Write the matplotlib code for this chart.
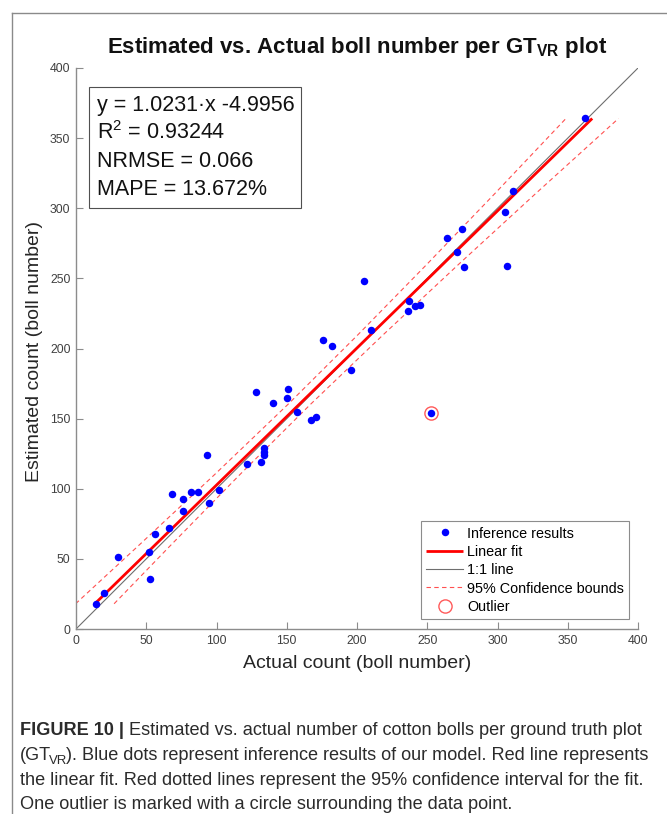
import numpy as np
import matplotlib
matplotlib.use('Agg')
import matplotlib.pyplot as plt
from matplotlib import font_manager
from matplotlib.lines import Line2D
from matplotlib.patches import Rectangle

plt.rcParams['font.family'] = ['Liberation Sans', 'DejaVu Sans']
plt.rcParams['mathtext.fontset'] = 'custom'
plt.rcParams['mathtext.rm'] = 'Liberation Sans'
plt.rcParams['mathtext.it'] = 'Liberation Sans:italic'
plt.rcParams['mathtext.bf'] = 'Liberation Sans:bold'

# ---- data ----
actual = [14, 20, 30, 52, 53, 56, 66, 68, 76, 76, 82, 87, 93, 95, 102,
          122, 128, 132, 134, 134, 134, 140, 150, 151, 157, 167, 171, 176,
          182, 196, 210, 205, 236, 237, 241, 245, 264, 271, 275, 276, 305,
          307, 311, 362, 253]
estimated = [18, 26, 51, 55, 36, 68, 72, 96, 84, 93, 98, 98, 124, 90, 99,
             118, 169, 119, 129, 126, 124, 161, 165, 171, 155, 149, 151, 206,
             202, 185, 213, 248, 227, 234, 230, 231, 279, 269, 285, 258, 297,
             259, 312, 364, 154]
outlier_actual = [253]
outlier_estimated = [154]

fit_slope = 1.0231
fit_intercept = -4.9956

# half width of the 95% bounds (horizontal, in boll number) at some y values
ci_y = [18, 60, 110, 160, 210, 260, 310, 364]
ci_half = [13.7, 11.3, 9.0, 8.0, 9.0, 11.3, 14.5, 18.7]

stats_lines = ['y = 1.0231\u00b7x -4.9956', r'R$^2$ = 0.93244',
               'NRMSE = 0.066', 'MAPE = 13.672%']

ticks = [0, 50, 100, 150, 200, 250, 300, 350, 400]

W, H = 667, 814
fig = plt.figure(figsize=(W / 100, H / 100), dpi=100)

# frame around figure + caption
fx, fy = 12 / W, 1 - 13 / H
fig.add_artist(Line2D([fx, 1.02], [fy, fy], transform=fig.transFigure, color='#8a8a8a', lw=1.0))
fig.add_artist(Line2D([fx, fx], [-0.02, fy], transform=fig.transFigure, color='#8a8a8a', lw=1.0))

ax = fig.add_axes([76 / W, (H - 629) / H, 562 / W, 561 / H])
ax.set_xlim(0, 400)
ax.set_ylim(0, 400)

# data
ax.plot(actual, estimated, 'o', ls='none', color='#0000ff', ms=5.4, mew=0,
        label='Inference results', zorder=4)

# linear fit (drawn over the range of estimated counts)
yy = np.array([min(estimated), max(estimated)], dtype=float)
ax.plot(fit_slope * yy + fit_intercept, yy, color='#ff0000', lw=2.0,
        label='Linear fit', zorder=3, solid_capstyle='butt')

# 1:1 line
ax.plot([0, 400], [0, 400], color='#6e6e6e', lw=0.8, label='1:1 line', zorder=2)

# confidence bounds
cy = np.array(ci_y, dtype=float)
ch = np.array(ci_half, dtype=float)
cx = fit_slope * cy + fit_intercept
ax.plot(cx - ch, cy, color='#ff5050', lw=0.8, ls=(0, (4, 3)),
        label='95% Confidence bounds', zorder=2)
ax.plot(cx + ch, cy, color='#ff5050', lw=0.8, ls=(0, (4, 3)), zorder=2)

# outlier
ax.plot(outlier_actual, outlier_estimated, 'o', ls='none', mfc='none',
        mec='#ff5a5a', ms=9.5, mew=1.0, label='Outlier', zorder=5)

for s in ['top', 'right']:
    ax.spines[s].set_visible(False)
for s in ['left', 'bottom']:
    ax.spines[s].set_color('#8c8c8c')
    ax.spines[s].set_linewidth(1.0)
ax.set_xticks(ticks)
ax.set_yticks(ticks)
ax.tick_params(direction='in', length=5, width=0.8, color='#8c8c8c',
               labelcolor='#404040', labelsize=8.8, pad=4)

# stats box
ax.add_patch(Rectangle((0.023, 0.75), 0.377, 0.216, transform=ax.transAxes,
                       fill=False, ec='#505050', lw=0.8, zorder=6))
for i, s in enumerate(stats_lines):
    ax.text(0.037, 0.9234 - i * 0.0499, s, transform=ax.transAxes,
            fontsize=15.5, va='baseline', ha='left', color='#111111', zorder=7)

leg = ax.legend(loc='lower right', bbox_to_anchor=(0.984, 0.018),
                borderaxespad=0, fontsize=10.4, frameon=True, fancybox=False,
                framealpha=1, edgecolor='#8c8c8c', handlelength=2.6,
                handletextpad=0.25, labelspacing=0.3, borderpad=0.35)
leg.get_frame().set_linewidth(0.8)

# title and axis labels
fig.text(357 / W, 1 - 53 / H,
         r'Estimated vs. Actual boll number per GT$_{\mathbf{VR}}$ plot',
         ha='center', va='baseline', fontsize=16, fontweight='bold', color='#111111')
fig.text(357 / W, 1 - 663 / H, 'Actual count (boll number)', ha='center',
         va='center', fontsize=14, color='#262626')
fig.text(35 / W, 1 - 352 / H, 'Estimated count (boll number)', ha='center',
         va='center', rotation=90, fontsize=14, color='#262626')

# caption
cap_family = ['Liberation Sans Narrow', 'Liberation Sans', 'DejaVu Sans']
cap_color = '#2b2b2b'
cap_lines = [
    [('FIGURE 10 |', 'bold', False), ('Estimated vs. actual number of cotton bolls per ground truth plot', 'normal', False)],
    [('(GT', 'normal', False), ('VR', 'normal', True), ('). Blue dots represent inference results of our model. Red line represents', 'normal', False)],
    [('the linear fit. Red dotted lines represent the 95% confidence interval for the fit.', 'normal', False)],
    [('One outlier is marked with a circle surrounding the data point.', 'normal', False)],
]
cap_base = [735, 760, 785, 809]
renderer = fig.canvas.get_renderer()


def draw_caption(size):
    made = []
    ends = []
    sp = fig.text(0, 0, 'a a', fontsize=size, family=cap_family)
    sp2 = fig.text(0, 0, 'aa', fontsize=size, family=cap_family)
    space = sp.get_window_extent(renderer).width - sp2.get_window_extent(renderer).width
    sp.remove()
    sp2.remove()
    for line, base in zip(cap_lines, cap_base):
        x = 20
        for k, (txt, weight, sub) in enumerate(line):
            if sub:
                x -= 2.0
            elif k > 0 and txt.startswith(')'):
                x -= 1.0
            elif k > 0:
                x += space
            fs = size * 0.72 if sub else size
            yb = base + (size * 0.28 if sub else 0)
            t = fig.text(x / W, 1 - yb / H, txt, fontsize=fs, fontweight=weight,
                         family=cap_family, color=cap_color, ha='left', va='baseline')
            made.append(t)
            x += t.get_window_extent(renderer).width
        ends.append(x)
    return made, ends


made, ends = draw_caption(12)
scale = (652 - 20) / (max(ends) - 20)
for t in made:
    t.remove()
draw_caption(12 * scale)

fig.savefig('out.png', dpi=100)
